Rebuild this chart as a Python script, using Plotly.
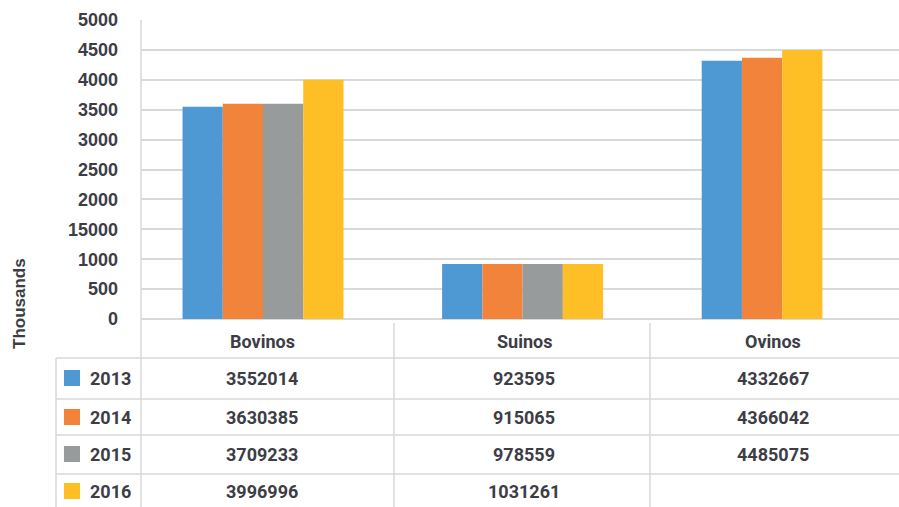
import plotly.graph_objects as go

# ---------------- data ----------------
categories = ["Bovinos", "Suinos", "Ovinos"]
years = ["2013", "2014", "2015", "2016"]

# bar heights as drawn (thousands)
bars_2013 = [3550, 920, 4320]
bars_2014 = [3600, 920, 4370]
bars_2015 = [3600, 920, 4500]   # third Ovinos bar is drawn in yellow in the original
bars_2016 = [4000, 920, None]

# values printed in the data table
table_2013 = ["3552014", "923595", "4332667"]
table_2014 = ["3630385", "915065", "4366042"]
table_2015 = ["3709233", "978559", "4485075"]
table_2016 = ["3996996", "1031261", ""]

y_tickvals = [0, 500, 1000, 1500, 2000, 2500, 3000, 3500, 4000, 4500, 5000]
y_ticktext = ["0", "500", "1000", "15000", "2000", "2500", "3000", "3500", "4000", "4500", "5000"]
y_title = "Thousands"

BLUE, ORANGE, GREY, YELLOW = "#4e98d3", "#f2833a", "#989b9b", "#fdbe26"
series_colors = [
    [BLUE, BLUE, BLUE],
    [ORANGE, ORANGE, ORANGE],
    [GREY, GREY, YELLOW],
    [YELLOW, YELLOW, YELLOW],
]
legend_colors = [BLUE, ORANGE, GREY, YELLOW]
TEXT = "#3d3d46"
LINE = "#d9d9d9"

# ---------------- layout helpers ----------------
W, H = 899, 507
PL, PR, PT, PB = 141, 899, 20, 319


def xp(px):
    return (px - PL) / (PR - PL)


def yp(py):
    return (PB - py) / (PB - PT)


fig = go.Figure()
all_bars = [bars_2013, bars_2014, bars_2015, bars_2016]
for yr, vals, cols in zip(years, all_bars, series_colors):
    fig.add_trace(go.Bar(x=categories, y=vals, name=yr,
                         marker=dict(color=cols, line=dict(width=0)),
                         showlegend=False, hoverinfo="x+y+name"))

fig.update_layout(
    width=W, height=H,
    margin=dict(l=PL, r=W - PR, t=PT, b=H - PB, autoexpand=False),
    paper_bgcolor="white", plot_bgcolor="white",
    barmode="group", bargap=0.38, bargroupgap=0,
    font=dict(family="Roboto, Arial, sans-serif", color=TEXT),
    xaxis=dict(showticklabels=False, showgrid=False, zeroline=False,
               showline=False, range=[-0.47, 2.45], fixedrange=True),
    yaxis=dict(range=[0, 5000], tickvals=y_tickvals, ticktext=y_ticktext,
               showgrid=True, gridcolor=LINE, gridwidth=1.5,
               zeroline=True, zerolinecolor=LINE, zerolinewidth=1.5,
               showline=False, ticks="", ticklabelstandoff=22,
               tickfont=dict(family="Liberation Sans, Arial, sans-serif",
                             size=18, color=TEXT, weight="bold"),
               fixedrange=True),
)

shapes = []


def hline(py, x0, x1):
    shapes.append(dict(type="line", xref="paper", yref="paper",
                       x0=xp(x0), x1=xp(x1), y0=yp(py), y1=yp(py),
                       line=dict(color=LINE, width=1.5)))


def vline(px, y0, y1):
    shapes.append(dict(type="line", xref="paper", yref="paper",
                       x0=xp(px), x1=xp(px), y0=yp(y0), y1=yp(y1),
                       line=dict(color=LINE, width=1.5)))


vline(141, 20, 507)
vline(56, 358, 507)
vline(394, 323, 507)
vline(650, 323, 507)
for py in [358, 399, 435, 474]:
    hline(py, 56, 899)

row_centers = [378, 417, 454, 491]
col_centers = [262, 524, 773]

# legend keys
for c, yc in zip(legend_colors, row_centers):
    shapes.append(dict(type="rect", xref="paper", yref="paper",
                       x0=xp(64), x1=xp(80), y0=yp(yc + 8), y1=yp(yc - 8),
                       fillcolor=c, line=dict(width=0)))

annotations = []
txtfont = dict(family="Roboto, Arial, sans-serif", size=18, color=TEXT, weight="bold")
for cat, xc in zip(categories, col_centers):
    annotations.append(dict(text=cat, xref="paper", yref="paper",
                            x=xp(xc), y=yp(341), showarrow=False,
                            xanchor="center", yanchor="middle", font=txtfont))
for yr, vals, yc in zip(years, [table_2013, table_2014, table_2015, table_2016], row_centers):
    annotations.append(dict(text=yr, xref="paper", yref="paper",
                            x=xp(110), y=yp(yc), showarrow=False,
                            xanchor="center", yanchor="middle", font=txtfont))
    for v, xc in zip(vals, col_centers):
        if v:
            annotations.append(dict(text=v, xref="paper", yref="paper",
                                    x=xp(xc), y=yp(yc), showarrow=False,
                                    xanchor="center", yanchor="middle", font=txtfont))

annotations.append(dict(text=y_title, xref="paper", yref="paper",
                        x=xp(19), y=yp(304), textangle=-90, showarrow=False,
                        xanchor="center", yanchor="middle",
                        font=dict(family="Liberation Sans, Arial, sans-serif",
                                  size=17, color=TEXT, weight="bold")))

fig.update_layout(shapes=shapes, annotations=annotations)
fig.write_html("out.html", config={"displayModeBar": False},
               post_script="document.body.style.margin='0';document.body.style.overflow='hidden';")
